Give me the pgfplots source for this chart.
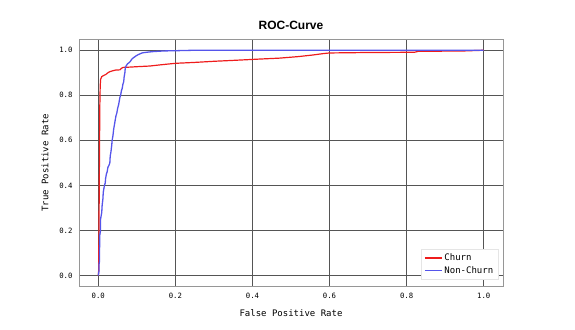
\documentclass[border=0pt]{standalone}
\usepackage{pgfplots}
\pgfplotsset{compat=1.18}
\usepackage{fontspec}
\setmainfont{DejaVu Sans Mono}
\newfontfamily\titlefont{Liberation Sans}

\definecolor{churnred}{RGB}{238,28,28}
\definecolor{nonblue}{RGB}{85,85,235}
\definecolor{gridc}{RGB}{85,85,85}
\definecolor{framec}{RGB}{150,150,150}

\begin{document}
\begin{tikzpicture}
	\path[use as bounding box] (-79pt,-42.3pt) rectangle (496pt,286.7pt);
	\begin{axis}[
		scale only axis,
		width=424pt,
		height=247.7pt,
		xmin=-0.05, xmax=1.05,
		ymin=-0.05, ymax=1.05,
		xtick={0,0.2,0.4,0.6,0.8,1.0},
		ytick={0,0.2,0.4,0.6,0.8,1.0},
		major tick length=0pt,
		grid=major,
		major grid style={gridc, line width=0.8pt},
		axis line style={framec, line width=0.8pt},
		tick label style={font=\fontsize{7.3}{8}\selectfont, /pgf/number format/assume math mode=true,
			/pgf/number format/fixed, /pgf/number format/precision=1, /pgf/number format/fixed zerofill},
		xticklabel style={yshift=-3pt},
		yticklabel style={xshift=-3pt},
		title={\titlefont\bfseries ROC-Curve},
		title style={font=\fontsize{12}{14}\selectfont},
		xlabel={False Positive Rate},
		ylabel={True Positive Rate},
		label style={font=\fontsize{9}{11}\selectfont},
		xlabel shift=4pt,
		ylabel shift=4pt,
		legend style={font=\fontsize{9}{11}\selectfont, draw=gray!20, fill=white,
			at={(0.988,0.03)}, anchor=south east, inner sep=2.5pt},
		legend cell align=left,
		legend image code/.code={\draw[#1, line width=1.4pt] (0pt,0pt) -- (17pt,0pt);},
		]
		\addplot[churnred, line width=1.2pt] coordinates {
			(0,0) (0.001,0.02) (0.002,0.25) (0.003,0.5) (0.004,0.75) (0.005,0.84)
			(0.006,0.87) (0.009,0.883) (0.014,0.888) (0.02,0.893) (0.025,0.9)
			(0.03,0.905) (0.038,0.909) (0.045,0.912) (0.056,0.913) (0.06,0.92)
			(0.065,0.924) (0.08,0.925) (0.1,0.927) (0.134,0.93) (0.16,0.935)
			(0.2,0.942) (0.25,0.946) (0.3,0.951) (0.35,0.955) (0.42,0.961)
			(0.47,0.965) (0.52,0.972) (0.557,0.979) (0.583,0.985) (0.6,0.988)
			(0.7,0.99) (0.82,0.991) (0.83,0.995) (0.95,0.997) (1.0,1.0)
		};
		\addlegendentry{Churn}
		\addplot[nonblue, line width=1.3pt] coordinates {
			(0,0) (0.002,0.02) (0.002,0.05) (0.003,0.06) (0.003,0.12) (0.004,0.13)
			(0.004,0.18) (0.006,0.2) (0.006,0.25) (0.008,0.27) (0.009,0.28)
			(0.010,0.31) (0.012,0.34) (0.013,0.37) (0.014,0.38) (0.016,0.4)
			(0.018,0.41) (0.019,0.43) (0.021,0.45) (0.023,0.46) (0.025,0.48)
			(0.028,0.49) (0.03,0.5) (0.031,0.53) (0.033,0.55) (0.035,0.58)
			(0.036,0.6) (0.038,0.62) (0.04,0.65) (0.042,0.67) (0.044,0.69)
			(0.046,0.71) (0.048,0.72) (0.05,0.74) (0.053,0.76) (0.056,0.79)
			(0.058,0.8) (0.06,0.82) (0.062,0.83) (0.064,0.85) (0.066,0.86)
			(0.067,0.88) (0.069,0.9) (0.07,0.92) (0.072,0.93) (0.076,0.94)
			(0.080,0.945) (0.083,0.95) (0.086,0.958) (0.089,0.964) (0.094,0.97)
			(0.098,0.975) (0.103,0.98) (0.107,0.983) (0.112,0.987) (0.116,0.989)
			(0.13,0.992) (0.142,0.994) (0.17,0.997) (0.2,0.998) (0.25,1.0) (1.0,1.0)
		};
		\addlegendentry{Non-Churn}
	\end{axis}
\end{tikzpicture}
\end{document}
